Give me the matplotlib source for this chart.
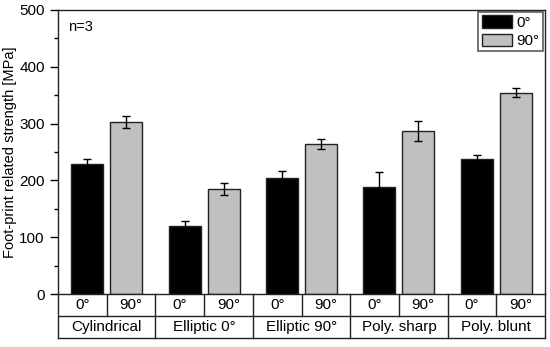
import matplotlib.pyplot as plt
import numpy as np
from matplotlib.ticker import MultipleLocator

plt.rcParams['font.family'] = ['Liberation Sans', 'DejaVu Sans']

# data
groups = ['Cylindrical', 'Elliptic 0°', 'Elliptic 90°', 'Poly. sharp', 'Poly. blunt']
angles = ['0°', '90°']
mean_0 = [228, 120, 204, 189, 237]
err_0 = [10, 9, 12, 25, 7]
mean_90 = [303, 185, 264, 287, 354]
err_90 = [10, 11, 9, 17, 8]

W, H = 550, 347
fig = plt.figure(figsize=(W / 100, H / 100), dpi=100)
left, right, top, bottom = 58, 545, 10, 294
ax = fig.add_axes([left / W, 1 - bottom / H, (right - left) / W, (bottom - top) / H])

n = len(groups)
g = np.arange(n) * 2
bw = 0.66
ax.bar(g + 0.6, mean_0, bw, yerr=err_0, color='black', edgecolor='#222222',
       linewidth=1, capsize=3, error_kw=dict(elinewidth=1, capthick=1), label=angles[0])
ax.bar(g + 1.4, mean_90, bw, yerr=err_90, color='#c0c0c0', edgecolor='#222222',
       linewidth=1, capsize=3, error_kw=dict(elinewidth=1, capthick=1), label=angles[1])

ax.set_xlim(0, 2 * n)
ax.set_ylim(0, 500)
ax.set_xticks([])
ax.yaxis.set_major_locator(MultipleLocator(100))
ax.yaxis.set_minor_locator(MultipleLocator(50))
ax.tick_params(axis='y', which='major', length=6, width=1, labelsize=11, direction='out')
ax.tick_params(axis='y', which='minor', length=3, width=1, direction='out')
for s in ax.spines.values():
    s.set_linewidth(1)
    s.set_color('#222222')
ax.set_ylabel('Foot-print related strength [MPa]', fontsize=10.5, labelpad=2)
ax.text(0.2, 470, 'n=3', fontsize=10.5, va='center')

leg = ax.legend(loc='upper right', fontsize=11, frameon=True, fancybox=False,
                handlelength=2.0, handleheight=0.85, handletextpad=0.3,
                borderpad=0.2, labelspacing=0.25, borderaxespad=0.15)
leg.get_frame().set_edgecolor('#333333')
leg.get_frame().set_linewidth(1.2)

# table below the plot
tb = 338
axt = fig.add_axes([left / W, 1 - tb / H, (right - left) / W, (tb - bottom) / H])
axt.set_xlim(0, 2 * n)
axt.set_ylim(0, 2)
axt.axis('off')
lc = '#222222'
axt.plot([0, 2 * n], [1, 1], color=lc, lw=1)
axt.plot([0, 2 * n], [0, 0], color=lc, lw=1, clip_on=False)
for i in range(n):
    axt.plot([2 * i, 2 * i], [0, 2], color=lc, lw=1, clip_on=False)
    axt.plot([2 * i + 1, 2 * i + 1], [1, 2], color=lc, lw=1)
    axt.text(2 * i + 1, 0.5, groups[i], ha='center', va='center', fontsize=11)
    for j, a in enumerate(angles):
        axt.text(2 * i + 0.5 + j, 1.5, a, ha='center', va='center', fontsize=11)
axt.plot([2 * n, 2 * n], [0, 2], color=lc, lw=1, clip_on=False)

fig.savefig('out.png', dpi=100)
